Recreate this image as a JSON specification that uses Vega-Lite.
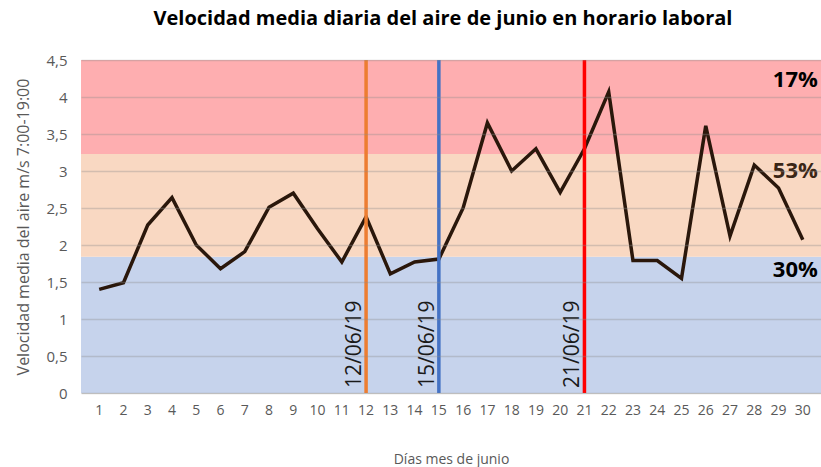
{
  "$schema": "https://vega.github.io/schema/vega-lite/v6.json",
  "width": 740,
  "height": 333,
  "autosize": {"type": "none"},
  "padding": {"left": 81, "top": 60, "right": 0, "bottom": 74},
  "background": "white",
  "config": {"view": {"stroke": null}, "font": "Open Sans"},
  "title": {
    "text": "Velocidad media diaria del aire de junio en horario laboral",
    "fontSize": 20,
    "fontWeight": "bold",
    "color": "#000000",
    "anchor": "middle",
    "dx": -8,
    "offset": 24
  },
  "datasets": {
    "serie": [
      {"dia": 1, "v": 1.40}, {"dia": 2, "v": 1.49}, {"dia": 3, "v": 2.27}, {"dia": 4, "v": 2.64},
      {"dia": 5, "v": 2.00}, {"dia": 6, "v": 1.68}, {"dia": 7, "v": 1.91}, {"dia": 8, "v": 2.51},
      {"dia": 9, "v": 2.70}, {"dia": 10, "v": 2.22}, {"dia": 11, "v": 1.77}, {"dia": 12, "v": 2.38},
      {"dia": 13, "v": 1.61}, {"dia": 14, "v": 1.77}, {"dia": 15, "v": 1.81}, {"dia": 16, "v": 2.50},
      {"dia": 17, "v": 3.65}, {"dia": 18, "v": 3.00}, {"dia": 19, "v": 3.30}, {"dia": 20, "v": 2.71},
      {"dia": 21, "v": 3.30}, {"dia": 22, "v": 4.07}, {"dia": 23, "v": 1.79}, {"dia": 24, "v": 1.79},
      {"dia": 25, "v": 1.55}, {"dia": 26, "v": 3.61}, {"dia": 27, "v": 2.12}, {"dia": 28, "v": 3.08},
      {"dia": 29, "v": 2.77}, {"dia": 30, "v": 2.07}
    ],
    "bandas": [
      {"desde": 0, "hasta": 1.84, "color": "#c6d3ec"},
      {"desde": 1.84, "hasta": 3.23, "color": "#f9d8c2"},
      {"desde": 3.23, "hasta": 4.5, "color": "#feaeb0"}
    ],
    "fechas": [
      {"dia": 12, "texto": "12/06/19", "color": "#ed7d31"},
      {"dia": 15, "texto": "15/06/19", "color": "#4472c4"},
      {"dia": 21, "texto": "21/06/19", "color": "#ff0000"}
    ],
    "porcentajes": [
      {"dia": 30, "v": 4.23, "texto": "17%", "color": "#000000"},
      {"dia": 30, "v": 3.0, "texto": "53%", "color": "#3b2616"},
      {"dia": 30, "v": 1.66, "texto": "30%", "color": "#000000"}
    ]
  },
  "encoding": {
    "y": {"type": "quantitative", "scale": {"domain": [0, 4.5], "nice": false},
      "axis": {
        "title": "Velocidad media del aire m/s  7:00-19:00",
        "titleFontSize": 16, "titleFontWeight": "normal", "titleColor": "#595959", "titlePadding": 14,
        "labelFontSize": 15, "labelColor": "#595959", "labelPadding": 14,
        "format": "~g",
        "labelExpr": "replace(datum.label, '.', ',')",
        "labelOverlap": false,
        "values": [0, 0.5, 1, 1.5, 2, 2.5, 3, 3.5, 4, 4.5],
        "domain": false, "ticks": false, "zindex": 1,
        "grid": true, "gridColor": "#8c8c8c", "gridOpacity": 0.35, "gridWidth": 1.3
      }}
  },
  "layer": [
    {
      "data": {"name": "bandas"},
      "mark": {"type": "rect"},
      "encoding": {
        "y": {"field": "desde", "type": "quantitative", "scale": {"domain": [0, 4.5], "nice": false},
          "axis": {
            "title": "Velocidad media del aire m/s  7:00-19:00",
            "titleFontSize": 16, "titleFontWeight": "normal", "titleColor": "#595959", "titlePadding": 14,
            "labelFontSize": 15, "labelColor": "#595959", "labelPadding": 14,
            "format": "~g",
            "labelExpr": "replace(datum.label, '.', ',')",
            "labelOverlap": false,
            "values": [0, 0.5, 1, 1.5, 2, 2.5, 3, 3.5, 4, 4.5],
            "domain": false, "ticks": false, "zindex": 1,
            "grid": true, "gridColor": "#8c8c8c", "gridOpacity": 0.35, "gridWidth": 1.3
          }},
        "y2": {"field": "hasta"},
        "color": {"field": "color", "type": "nominal", "scale": null}
      }
    },
    {
      "data": {"name": "serie"},
      "mark": {"type": "line", "color": "#2a170b", "strokeWidth": 3.5, "strokeJoin": "miter"},
      "encoding": {
        "x": {"field": "dia", "type": "ordinal", "scale": {"padding": 0.5},
          "axis": {
            "title": "Días mes de junio", "titleFontSize": 14, "titleFontWeight": "normal",
            "titleColor": "#595959", "titlePadding": 35,
            "labelFontSize": 14, "labelColor": "#595959", "labelAngle": 0, "labelPadding": 10,
            "ticks": false, "domain": true, "domainColor": "#d9d9d9", "grid": false
          }},
        "y": {"field": "v", "type": "quantitative", "scale": {"domain": [0, 4.5], "nice": false},
          "axis": {
            "title": "Velocidad media del aire m/s  7:00-19:00",
            "titleFontSize": 16, "titleFontWeight": "normal", "titleColor": "#595959", "titlePadding": 14,
            "labelFontSize": 15, "labelColor": "#595959", "labelPadding": 14,
            "format": "~g",
            "labelExpr": "replace(datum.label, '.', ',')",
            "labelOverlap": false,
            "values": [0, 0.5, 1, 1.5, 2, 2.5, 3, 3.5, 4, 4.5],
            "domain": false, "ticks": false, "zindex": 1,
            "grid": true, "gridColor": "#8c8c8c", "gridOpacity": 0.35, "gridWidth": 1.3
          }}
      }
    },
    {
      "data": {"name": "fechas"},
      "mark": {"type": "rule", "strokeWidth": 3.5},
      "encoding": {
        "x": {"field": "dia", "type": "ordinal"},
        "y": null,
        "color": {"field": "color", "type": "nominal", "scale": null}
      }
    },
    {
      "data": {"name": "fechas"},
      "mark": {"type": "text", "angle": 270, "align": "left", "baseline": "bottom", "fontSize": 21, "color": "#1a1a1a", "dx": 5, "dy": -1},
      "encoding": {
        "x": {"field": "dia", "type": "ordinal"},
        "y": {"datum": 0, "type": "quantitative"},
        "text": {"field": "texto"}
      }
    },
    {
      "data": {"name": "porcentajes"},
      "mark": {"type": "text", "align": "right", "baseline": "middle", "fontSize": 22, "fontWeight": "bold", "dx": 15},
      "encoding": {
        "x": {"field": "dia", "type": "ordinal"},
        "y": {"field": "v", "type": "quantitative"},
        "text": {"field": "texto"},
        "color": {"field": "color", "type": "nominal", "scale": null}
      }
    }
  ]
}
